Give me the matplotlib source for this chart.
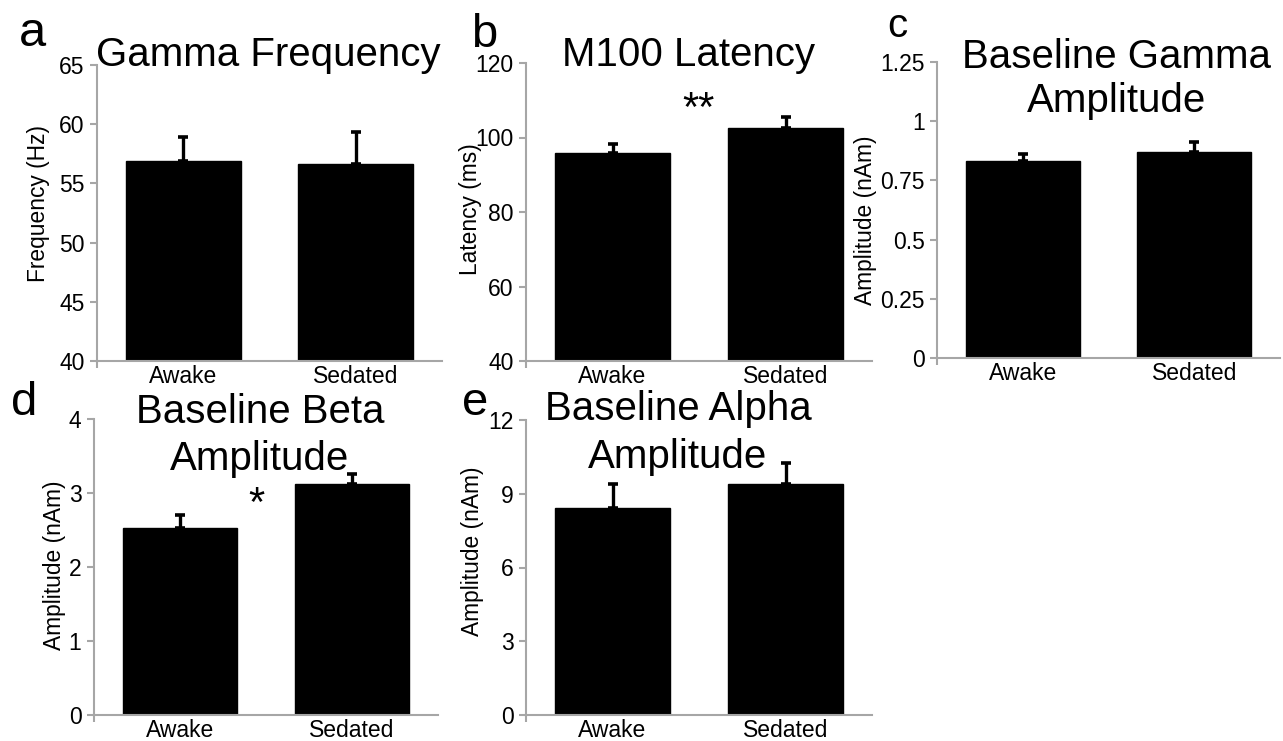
import matplotlib.pyplot as plt
import numpy as np

plt.rcParams['font.family'] = ['Liberation Sans', 'DejaVu Sans']

W, H = 1283, 741
GRAY = '#a6a6a6'

groups = ['Awake', 'Sedated']

# panel a - gamma frequency
freq_mean = [56.9, 56.6]
freq_err = [2.0, 2.7]
freq_ticks = [40, 45, 50, 55, 60, 65]

# panel b - M100 latency
lat_mean = [95.8, 102.6]
lat_err = [2.5, 2.9]
lat_ticks = [40, 60, 80, 100, 120]

# panel c - baseline gamma amplitude
gamma_mean = [0.832, 0.870]
gamma_err = [0.029, 0.042]
gamma_ticks = [0, 0.25, 0.5, 0.75, 1, 1.25]
gamma_ticklabels = ['0', '0.25', '0.5', '0.75', '1', '1.25']

# panel d - baseline beta amplitude
beta_mean = [2.53, 3.12]
beta_err = [0.17, 0.14]
beta_ticks = [0, 1, 2, 3, 4]

# panel e - baseline alpha amplitude
alpha_mean = [8.42, 9.39]
alpha_err = [0.97, 0.85]
alpha_ticks = [0, 3, 6, 9, 12]


def px(x, y):
    return x / W, 1 - y / H


def make_ax(fig, left, right, top, bottom):
    return fig.add_axes([left / W, 1 - bottom / H, (right - left) / W, (bottom - top) / H])


def bar_panel(ax, means, errs, ticks, ticklabels=None):
    x = np.arange(len(groups))
    ax.bar(x, means, width=0.667, color='black', edgecolor='black', zorder=2)
    ax.errorbar(x, means, yerr=[[0] * len(errs), errs], fmt='none', ecolor='black',
                elinewidth=2.4, capsize=3.5, capthick=2.6, zorder=3)
    ax.set_xlim(-0.5, len(groups) - 0.5)
    ax.set_ylim(ticks[0], ticks[-1])
    ax.set_yticks(ticks)
    if ticklabels is not None:
        ax.set_yticklabels(ticklabels)
    ax.set_xticks(x)
    ax.set_xticklabels(groups)
    ax.set_xticks([-0.5], minor=True)
    for s in ['top', 'right']:
        ax.spines[s].set_visible(False)
    for s in ['left', 'bottom']:
        ax.spines[s].set_color(GRAY)
        ax.spines[s].set_linewidth(1.5)
    ax.tick_params(axis='y', length=5, width=1.5, color=GRAY, labelsize=16.5, pad=4)
    ax.tick_params(axis='x', which='major', length=0, labelsize=16.5, pad=3)
    ax.tick_params(axis='x', which='minor', length=5, width=1.5, color=GRAY)


fig = plt.figure(figsize=(W / 100, H / 100), dpi=100)

ax_a = make_ax(fig, 97, 442, 65, 361)
bar_panel(ax_a, freq_mean, freq_err, freq_ticks)
ax_b = make_ax(fig, 526, 872, 63, 361)
bar_panel(ax_b, lat_mean, lat_err, lat_ticks)
ax_c = make_ax(fig, 937, 1280, 62, 358)
bar_panel(ax_c, gamma_mean, gamma_err, gamma_ticks, gamma_ticklabels)
ax_d = make_ax(fig, 94, 438, 419, 715)
bar_panel(ax_d, beta_mean, beta_err, beta_ticks)
ax_e = make_ax(fig, 526, 872, 420, 715)
bar_panel(ax_e, alpha_mean, alpha_err, alpha_ticks)

# titles (one text per line)
titles = [
    ('Gamma Frequency', 268, 66),
    ('M100 Latency', 688, 66),
    ('Baseline Gamma', 1117, 68),
    ('Amplitude', 1117, 112),
    ('Baseline Beta', 260, 423),
    ('Amplitude', 260, 470),
    ('Baseline Alpha', 678, 420),
    ('Amplitude', 678, 468),
]
for t, x, y in titles:
    fig.text(*px(x, y), t, fontsize=29, ha='center', va='baseline')

# y labels
ylabels = [
    ('Frequency (Hz)', 39, 203),
    ('Latency (ms)', 471, 209),
    ('Amplitude (nAm)', 865, 220),
    ('Amplitude (nAm)', 55, 565),
    ('Amplitude (nAm)', 473, 551),
]
for t, x, y in ylabels:
    fig.text(*px(x, y), t, fontsize=16.4, rotation=90, ha='center', va='center')

# panel letters
letters = [('a', 32, 46, 35), ('b', 484, 47, 34), ('c', 897, 37, 29),
           ('d', 24, 415, 34), ('e', 475, 415, 34)]
for t, x, y, s in letters:
    fig.text(*px(x, y), t, fontsize=s, ha='center', va='baseline')

# significance marks
fig.text(*px(698, 121), '**', fontsize=30, ha='center', va='baseline')
fig.text(*px(256, 516), '*', fontsize=30, ha='center', va='baseline')

fig.savefig('out.png', dpi=100)
